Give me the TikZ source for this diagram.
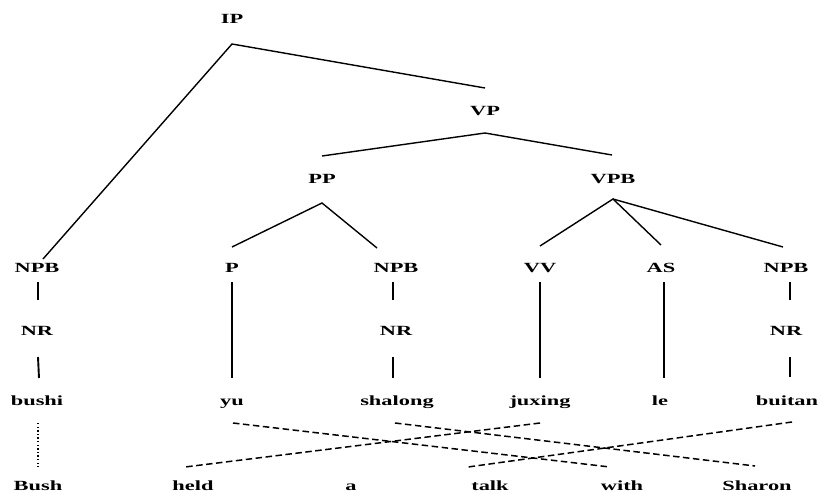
\documentclass[tikz,border=0pt]{standalone}
\usepackage{graphicx}
\usepackage{fontspec}
\setmainfont{Liberation Serif}
\newcommand\stx[1]{\scalebox{1.6}[1]{#1}}
\begin{document}
\begin{tikzpicture}[x=1pt,y=-1pt,
  lab/.style={inner sep=0pt, anchor=base, font=\fontsize{14}{15}\selectfont\bfseries},
  edge/.style={line width=1.4pt},
  vline/.style={line width=1.9pt},
  align/.style={line width=1.5pt, dash pattern=on 6.5pt off 3.5pt},
  dotline/.style={line width=2pt, dash pattern=on 1.4pt off 2.2pt}]
\useasboundingbox (0,0) rectangle (821,492);
% phrase labels
\node[lab] (IP) at (232,24) {\stx{IP}};
\node[lab] (VP) at (485,115) {\stx{VP}};
\node[lab] (PP) at (322,183) {\stx{PP}};
\node[lab] (VPB) at (613,183) {\stx{VPB}};
\node[lab] (NPB1) at (37,272) {\stx{NPB}};
\node[lab] (P) at (232,272) {\stx{P}};
\node[lab] (NPB2) at (396,272) {\stx{NPB}};
\node[lab] (VV) at (540,272) {\stx{VV}};
\node[lab] (AS) at (661,272) {\stx{AS}};
\node[lab] (NPB3) at (786,272) {\stx{NPB}};
\node[lab] (NR1) at (37,335) {\stx{NR}};
\node[lab] (NR2) at (396,335) {\stx{NR}};
\node[lab] (NR3) at (786,335) {\stx{NR}};
% source words
\node[lab] (bushi) at (37,405) {\stx{bushi}};
\node[lab] (yu) at (232,405) {\stx{yu}};
\node[lab] (shalong) at (397,405) {\stx{shalong}};
\node[lab] (juxing) at (540,405) {\stx{juxing}};
\node[lab] (le) at (660,405) {\stx{le}};
\node[lab] (buitan) at (787,405) {\stx{buitan}};
% target words
\node[lab] (Bush) at (38,490) {\stx{Bush}};
\node[lab] (held) at (193,490) {\stx{held}};
\node[lab] (a) at (351,490) {\stx{a}};
\node[lab] (talk) at (490,490) {\stx{talk}};
\node[lab] (with) at (622,490) {\stx{with}};
\node[lab] (Sharon) at (757,490) {\stx{Sharon}};
% tree edges
\draw[edge] ([xshift=6pt,yshift=13pt]NPB1.base) -- ([yshift=-20pt]IP.base) -- ([yshift=27pt]VP.base);
\draw[edge] ([yshift=27pt]PP.base) -- ([yshift=-18pt]VP.base) -- ([xshift=-1pt,yshift=28pt]VPB.base);
\draw[edge] ([yshift=25pt]P.base) -- ([yshift=-20pt]PP.base) -- ([xshift=-19pt,yshift=24pt]NPB2.base);
\draw[edge] ([yshift=26pt]VV.base) -- ([yshift=-16pt]VPB.base) -- ([yshift=27pt]AS.base);
\draw[edge] ([yshift=-16pt]VPB.base) -- ([xshift=-3pt,yshift=25pt]NPB3.base);
% vertical edges
\draw[vline] ([xshift=1pt,yshift=-10pt]NPB1.base) -- ([xshift=1pt,yshift=35pt]NR1.base);
\draw[vline] ([xshift=1pt,yshift=-22pt]NR1.base) -- ([xshift=2pt,yshift=27pt]bushi.base);
\draw[vline] ([yshift=-10pt]P.base) -- ([yshift=27pt]yu.base);
\draw[vline] ([xshift=-3pt,yshift=-10pt]NPB2.base) -- ([xshift=-3pt,yshift=35pt]NR2.base);
\draw[vline] ([xshift=-3pt,yshift=-22pt]NR2.base) -- ([xshift=-4pt,yshift=27pt]shalong.base);
\draw[vline] ([yshift=-10pt]VV.base) -- ([yshift=27pt]juxing.base);
\draw[vline] ([xshift=3pt,yshift=-10pt]AS.base) -- ([xshift=4pt,yshift=27pt]le.base);
\draw[vline] ([xshift=4pt,yshift=-10pt]NPB3.base) -- ([xshift=4pt,yshift=35pt]NR3.base);
\draw[vline] ([xshift=4pt,yshift=-22pt]NR3.base) -- ([xshift=3pt,yshift=28pt]buitan.base);
% alignments
\draw[dotline] ([xshift=1pt,yshift=-18pt]bushi.base) -- ([yshift=23pt]Bush.base);
\draw[align] ([xshift=1pt,yshift=-18pt]yu.base) -- ([xshift=-12pt,yshift=23pt]with.base);
\draw[align] ([xshift=-2pt,yshift=-18pt]shalong.base) -- ([xshift=-2pt,yshift=24pt]Sharon.base);
\draw[align] ([yshift=-18pt]juxing.base) -- ([xshift=-8pt,yshift=23pt]held.base);
\draw[align] ([xshift=5pt,yshift=-17pt]buitan.base) -- ([xshift=-22pt,yshift=23pt]talk.base);
\end{tikzpicture}
\end{document}
